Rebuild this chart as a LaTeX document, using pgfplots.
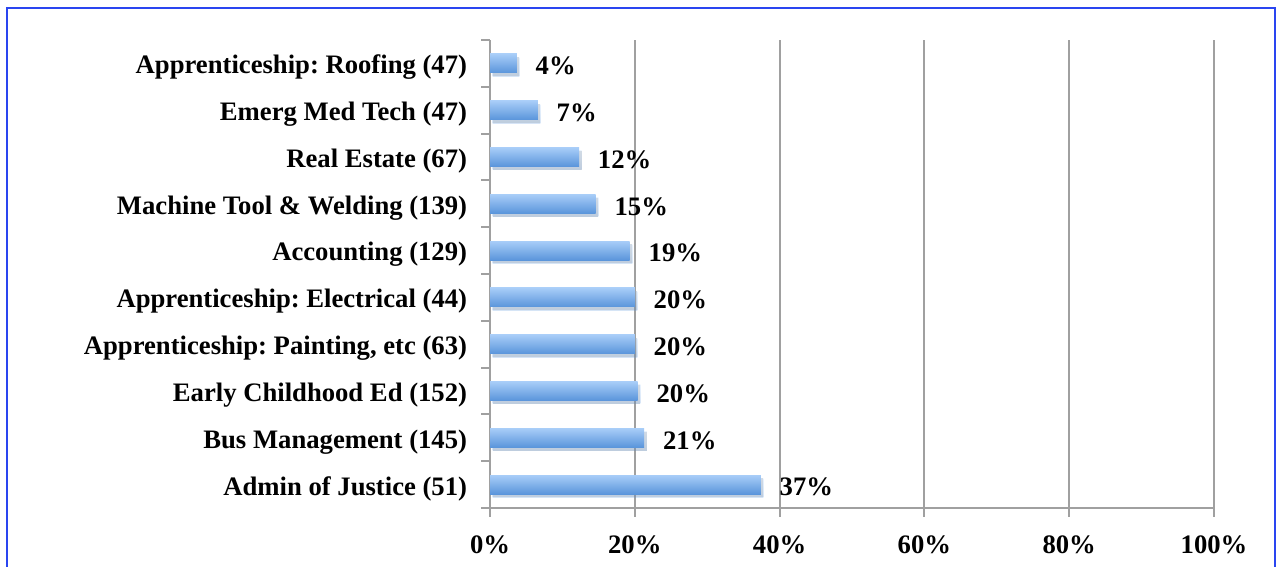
\documentclass[border=0pt]{standalone}
\usepackage{pgfplots}
\pgfplotsset{compat=1.18}
\usepackage{fontspec}
\setmainfont{Liberation Serif}
\usetikzlibrary{shadows}
\definecolor{gridgray}{HTML}{A0A0A0}
\definecolor{bartop}{HTML}{A8CDF8}
\definecolor{barbot}{HTML}{5A95DB}
\definecolor{framecol}{HTML}{2A45F0}
\newcommand{\lblfont}{\fontsize{20}{23}\selectfont\bfseries\frenchspacing}
\pgfplotsset{mybar/.style={draw=none, top color=bartop, bottom color=barbot, bar shift=0pt,
  drop shadow={shadow xshift=2pt, shadow yshift=-2.5pt, opacity=0.25}}}
\begin{document}
\begin{tikzpicture}
\path[use as bounding box] (0,0) rectangle (958.5pt,-425.25pt);
\draw[framecol, line width=1.5pt] (5.25pt,-6pt) rectangle (956.25pt,-440pt);
\begin{axis}[
  at={(367.5pt,-381pt)}, anchor=south west,
  scale only axis, width=543pt, height=351pt,
  xmin=0, xmax=100, ymin=-0.5, ymax=9.5,
  xbar, bar width=14.25pt,
  axis x line*=bottom, axis y line*=left,
  axis line style={gridgray, line width=1.5pt, -},
  xmajorgrids, grid style={gridgray, line width=1.5pt},
  tick align=outside, major tick length=6.5pt,
  tick style={gridgray, line width=1.5pt},
  xtick={0,20,...,100},
  /pgf/number format/assume math mode=true,
  xticklabel={\pgfmathprintnumber{\tick}\%},
  xticklabel style={font=\lblfont, yshift=-11pt},
  ytick={-0.5,0.5,...,9.5},
  yticklabels={},
  extra y ticks={0,...,9},
  extra y tick labels={Admin of Justice (51),Bus Management (145),Early Childhood Ed (152),{Apprenticeship: Painting, etc (63)},Apprenticeship: Electrical (44),Accounting (129),Machine Tool \& Welding (139),Real Estate (67),Emerg Med Tech (47),Apprenticeship: Roofing (47)},
  extra y tick style={major tick length=0pt, grid=none, yticklabel style={font=\lblfont, anchor=east, inner sep=0pt, xshift=-17pt, yshift=-3pt}},
  point meta=explicit symbolic,
  nodes near coords,
  nodes near coords style={font=\lblfont, anchor=west, inner sep=0pt, xshift=14pt, yshift=-2pt, text=black},
]
\addplot[mybar] coordinates {(37.4,0) [37\%]};
\addplot[mybar] coordinates {(21.3,1) [21\%]};
\addplot[mybar] coordinates {(20.4,2) [20\%]};
\addplot[mybar] coordinates {(20.0,3) [20\%]};
\addplot[mybar] coordinates {(20.0,4) [20\%]};
\addplot[mybar] coordinates {(19.3,5) [19\%]};
\addplot[mybar] coordinates {(14.6,6) [15\%]};
\addplot[mybar] coordinates {(12.3,7) [12\%]};
\addplot[mybar] coordinates {(6.6,8) [7\%]};
\addplot[mybar] coordinates {(3.7,9) [4\%]};
\end{axis}
\end{tikzpicture}
\end{document}
